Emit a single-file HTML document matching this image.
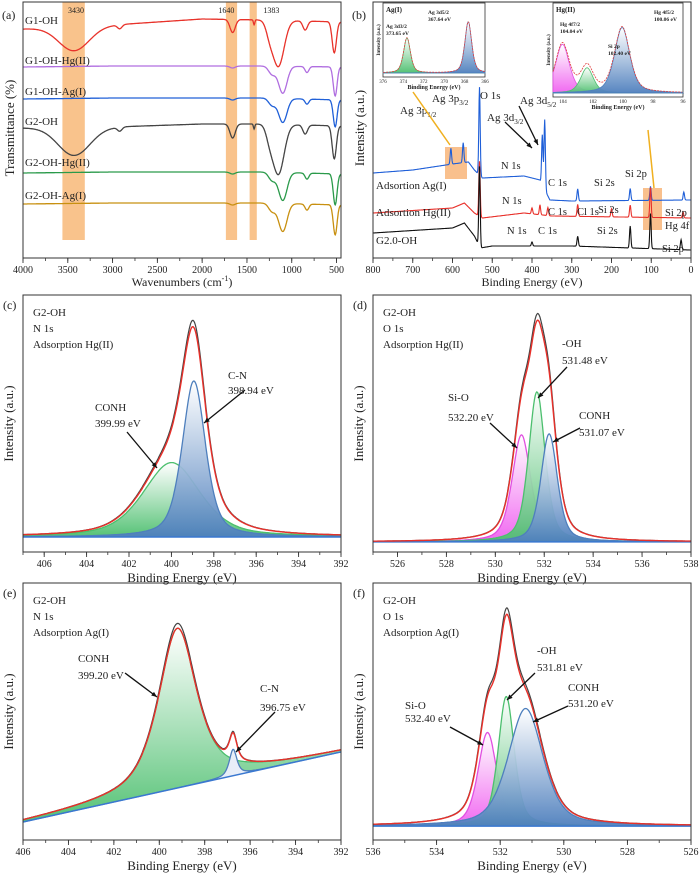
<!DOCTYPE html>
<html><head><meta charset="utf-8"><style>
html,body{margin:0;padding:0;background:#fff;}
svg{display:block;font-family:"Liberation Serif",serif;}
</style></head><body>
<svg id="fig" width="700" height="874" viewBox="0 0 700 874" xmlns="http://www.w3.org/2000/svg">
<defs id="defs"></defs>
</svg>
<script>
// ---------- FTIR (a) data ----------
const ftirNames=['G1-OH','G1-OH-Hg(II)','G1-OH-Ag(I)','G2-OH','G2-OH-Hg(II)','G2-OH-Ag(I)'];
const ftirBaseX=[4000,3000,2000,1300,450];
const ftirBaseVals=[[229,233,239,238,236],[191,192,192,192,191],[159,160,160,160,158],[130,131,134,134,132],[85,86,86,86,84],[54,55,55,55,53]];
const ftirDipCenters=[[3430,2920,1660,1420,1150,1250,850,525],[1660,1100,1220,830,515],[1660,1100,1220,830,515],[3430,2920,1660,1420,1150,1250,850,525],[1660,1100,1220,830,515],[1660,1100,1220,830,515]];
const ftirDipDepths=[[24,4,13,5,46,10,9,31],[2,27,8,6,29],[2,24,7,5,27],[28,4,14,5,50,10,9,33],[2,28,8,6,31],[2,28,8,6,30]];
const ftirDipWidths=[[400,60,70,18,150,90,60,55],[70,110,90,50,50],[70,110,90,50,50],[420,60,70,18,150,90,60,55],[70,110,90,50,50],[70,110,90,50,50]];
const ftirBands=[[3560,3310],[1735,1610],[1470,1390]];
const ftirTicks=[4000,3500,3000,2500,2000,1500,1000,500];

// ---------- Survey (b) data ----------
const surveyNames=['Adsortion Ag(I)','Adsortion Hg(II)','G2.0-OH'];
const surveyBaseX=[[800,700,600,560,545,525,420,380,355,300,0],[800,600,570,545,525,420,350,0],[800,600,570,545,530,500,300,0]];
const surveyBaseV=[[85,88,94,96,88,80,82,78,58,57,58],[45,50,55,45,40,45,42,40],[25,30,35,22,10,12,12,8]];
const surveyPeakC=[[604,573,532,374,368,285,153,102,18],[532,400,380,360,285,200,153,102,20],[532,400,285,153,102,25]];
const surveyPeakH=[[16,20,88,50,70,12,12,14,8],[55,6,10,8,12,8,12,30,6],[80,4,10,22,35,10]];

// ---------- high-resolution panels ----------
const cCenters=[399.99,398.94], cHeights=[31,65], cFwhm=[3.2,1.3];
const dCenters=[531.07,531.7,532.2], dHeights=[44.6,62.5,45], dFwhm=[0.9,0.8,0.8];
const eCenters=[399.2,396.75], eHeights=[66.5,11], eFwhm=[2.0,0.4];
const fCenters=[532.4,531.81,531.2], fHeights=[39,54,49], fFwhm=[0.7,0.6,1.3];
const agCenters=[373.65,367.64], agHeights=[55,80], agFwhm=[0.8,0.8];
const hgCenters=[104.04,102.4,100.06], hgHeights=[58,30,78], hgFwhm=[1.1,1.0,1.2];

const NS='http://www.w3.org/2000/svg';
const svg=document.getElementById('fig');
const defs=document.getElementById('defs');
function mk(tag,attrs,parent){const e=document.createElementNS(NS,tag);for(const k in attrs)e.setAttribute(k,attrs[k]);(parent||svg).appendChild(e);return e;}
function txt(x,y,s,size,anchor,parent){const t=mk('text',{x:x,y:y,'font-size':size,'text-anchor':anchor||'start',fill:'#222'},parent);t.textContent=s;return t;}
function subTxt(x,y,main,sub,size,parent){const t=mk('text',{x:x,y:y,'font-size':size,fill:'#222'},parent);t.appendChild(document.createTextNode(main));const ts=mk('tspan',{'font-size':size*0.65,dy:3},t);ts.textContent=sub;return t;}
function grad(id,color){const g=mk('linearGradient',{id:id,x1:0,y1:0,x2:0,y2:1},defs);mk('stop',{offset:'0','stop-color':'#fff','stop-opacity':0.9},g);mk('stop',{offset:'1','stop-color':color,'stop-opacity':0.95},g);}
grad('gGreen','#4cbf6e');grad('gBlue','#4e7fbd');grad('gMag','#f060f0');
function arrow(x1,y1,x2,y2,parent){mk('line',{x1:x1,y1:y1,x2:x2,y2:y2,stroke:'#111','stroke-width':1.3},parent);const a=Math.atan2(y2-y1,x2-x1),L=6;mk('polygon',{points:`${x2},${y2} ${x2-L*Math.cos(a-0.4)},${y2-L*Math.sin(a-0.4)} ${x2-L*Math.cos(a+0.4)},${y2-L*Math.sin(a+0.4)}`,fill:'#111'},parent);}
function pv(x,c,h,w){const r=(x-c)/w;return h*(0.5/(1+4*r*r)+0.5*Math.exp(-4*Math.LN2*r*r));}
function gauss(x,c,h,w){const r=(x-c)/w;return h*Math.exp(-4*Math.LN2*r*r);}
function interp(xs,vs,x){for(let i=0;i<xs.length-1;i++){const a=xs[i],b=xs[i+1];if((x-a)*(x-b)<=0){return vs[i]+(vs[i+1]-vs[i])*(x-a)/(b-a);}}return vs[vs.length-1];}
function axes(g,box,dom,majors,minorStep,fsz){
  const sx=v=>box.x0+(v-dom[0])/(dom[1]-dom[0])*(box.x1-box.x0);
  const r=mk('rect',{x:box.x0,y:box.y0,width:box.x1-box.x0,height:box.y1-box.y0,fill:'none',stroke:'#333','stroke-width':1},g);
  
  
  const lo=Math.min(dom[0],dom[1]),hi=Math.max(dom[0],dom[1]);
  for(let v=Math.ceil(lo/minorStep)*minorStep;v<=hi+1e-9;v+=minorStep){mk('line',{x1:sx(v),x2:sx(v),y1:box.y1,y2:box.y1+3,stroke:'#333','stroke-width':0.8},g);}
  majors.forEach(v=>{mk('line',{x1:sx(v),x2:sx(v),y1:box.y1,y2:box.y1+5,stroke:'#333','stroke-width':0.9},g);
    const t=txt(sx(v),box.y1+15,String(v),fsz||10,'middle',g);
    
    });
  return sx;
}
function panelG(name){const g=mk('g',{});return g;}

// ---------- Panel (a) ----------
(function(){
  const g=panelG('panel-a-ftir');
  const box={x0:23,x1:341,y0:2,y1:258};
  const dom=[4000,450];
  const sx=v=>box.x0+(v-dom[0])/(dom[1]-dom[0])*(box.x1-box.x0);
  const sy=v=>box.y1-v;
  ftirBands.forEach(b=>{const r=mk('rect',{x:sx(b[0]),y:2,width:sx(b[1])-sx(b[0]),height:238,fill:'#f8b878','fill-opacity':0.85},g);
    
    });
  const colors=['#e8322a','#b06ee0','#2060d8','#444','#2a9a4a','#c89010'];
  ftirNames.forEach((n,i)=>{
    let d='';for(let w=dom[0];w>=dom[1];w-=5){let v=interp(ftirBaseX,ftirBaseVals[i],w);
      ftirDipCenters[i].forEach((c,j)=>{v-=gauss(w,c,ftirDipDepths[i][j],ftirDipWidths[i][j]);});
      d+=(d?'L':'M')+sx(w).toFixed(1)+','+sy(v).toFixed(1);}
    const p=mk('path',{d:d,fill:'none',stroke:colors[i],'stroke-width':1.3},g);
    
    
  });
  const ly=[24,64,95,125,166,199];
  ftirNames.forEach((n,i)=>{const t=txt(25,ly[i],n,11,'start',g);});
  txt(sx(3430)+2,13,'3430',8,'middle',g);txt(sx(1640)-8,13,'1640',8,'middle',g);txt(sx(1383)+14,13,'1383',8,'middle',g);
  axes(g,box,dom,ftirTicks,250,10);
  const xt=mk('text',{x:182,y:286,'font-size':12,'text-anchor':'middle',fill:'#222'},g);xt.textContent='Wavenumbers (cm';const s=mk('tspan',{'font-size':8,dy:-5},xt);s.textContent='-1';const s2=mk('tspan',{dy:5},xt);s2.textContent=')';
  
  const yt=mk('text',{x:0,y:0,'font-size':13,'text-anchor':'middle',fill:'#222',transform:'translate(14,128) rotate(-90)'},g);yt.textContent='Transmittance (%)';
  
  txt(2,19,'(a)',12,'start',g);
})();

// ---------- Panel (b) ----------
(function(){
  const g=panelG('panel-b-survey');
  const box={x0:373,x1:691,y0:2,y1:258};
  const dom=[800,0];
  const sx=v=>box.x0+(v-dom[0])/(dom[1]-dom[0])*(box.x1-box.x0);
  const sy=v=>box.y1-v;
  [[445,147,22,32],[643,188,19,42]].forEach(r=>{const e=mk('rect',{x:r[0],y:r[1],width:r[2],height:r[3],fill:'#f8b070','fill-opacity':0.8},g);});
  const colors=['#1f5fd8','#e8302a','#111'];
  surveyNames.forEach((n,i)=>{
    let d='';for(let e=800;e>=0;e-=1){let v=interp(surveyBaseX[i],surveyBaseV[i],e);
      surveyPeakC[i].forEach((c,j)=>{v+=gauss(e,c,surveyPeakH[i][j],4);});
      d+=(d?'L':'M')+sx(e).toFixed(1)+','+sy(v).toFixed(1);}
    const p=mk('path',{d:d,fill:'none',stroke:colors[i],'stroke-width':1.1},g);
    
    
  });
  [[376,189],[376,216],[376,244]].forEach((p,i)=>{const t=txt(p[0],p[1],surveyNames[i],11,'start',g);});
  txt(480,99,'O 1s',11,'start',g);
  subTxt(520,104,'Ag 3d','5/2',11,g);subTxt(487,121,'Ag 3d','3/2',11,g);
  subTxt(432,102,'Ag 3p','3/2',11,g);subTxt(400,114,'Ag 3p','1/2',11,g);
  [[501,169,'N 1s'],[548,186,'C 1s'],[594,186,'Si 2s'],[625,177,'Si 2p'],[502,204,'N 1s'],[548,215,'C 1s'],[577,215,'Cl 1s'],[598,213,'Si 2s'],[665,216,'Si 2p'],[665,229,'Hg 4f'],[507,234,'N 1s'],[538,234,'C 1s'],[597,234,'Si 2s'],[662,252,'Si 2p']].forEach(a=>{const t=txt(a[0],a[1],a[2],10.5,'start',g);});
  [[519,106,538,145],[505,122,532,148]].forEach(a=>arrow(a[0],a[1],a[2],a[3],g));
  mk('line',{x1:413,y1:92,x2:450,y2:145,stroke:'#f0b020','stroke-width':1.5},g);
  mk('line',{x1:648,y1:130,x2:654,y2:188,stroke:'#f0b020','stroke-width':1.5},g);
  axes(g,box,dom,[800,700,600,500,400,300,200,100,0],50,10);
  const xt=txt(532,286,'Binding Energy (eV)',12,'middle',g);
  const yt=mk('text',{x:0,y:0,'font-size':13,'text-anchor':'middle',fill:'#222',transform:'translate(364,128) rotate(-90)'},g);yt.textContent='Intensity (a.u.)';
  
  txt(352,19,'(b)',12,'start',g);
  function inset(box,dom,centers,heights,fwhm,fills,strokes,title,ticks){
    const ig=mk('g',{},g);
    
    
    mk('rect',{x:box.x0,y:box.y0,width:box.x1-box.x0,height:box.y1-box.y0,fill:'#fff',stroke:'#333','stroke-width':0.8},ig);
    const ix=v=>box.x0+(v-dom[0])/(dom[1]-dom[0])*(box.x1-box.x0);
    const base=box.y1-4;const k=(box.y1-box.y0-10)/100;
    centers.forEach((c,j)=>{let d='M'+ix(dom[0])+','+base;for(let e=dom[0];(dom[1]-e)*(dom[1]-dom[0])>=0;e+=(dom[1]-dom[0])/150){d+='L'+ix(e).toFixed(1)+','+(base-pv(e,c,heights[j],fwhm[j])*k).toFixed(1);}d+='L'+ix(dom[1])+','+base+'Z';
      mk('path',{d:d,fill:fills[j],stroke:strokes[j],'stroke-width':0.8},ig);});
    let d='';for(let e=dom[0];(dom[1]-e)*(dom[1]-dom[0])>=0;e+=(dom[1]-dom[0])/150){let v=0;centers.forEach((c,j)=>{v+=pv(e,c,heights[j],fwhm[j]);});d+=(d?'L':'M')+ix(e).toFixed(1)+','+(base-v*k).toFixed(1);}
    mk('path',{d:d,fill:'none',stroke:'#e04040','stroke-width':0.8,'stroke-dasharray':'2,1'},ig);
    ticks.forEach(v=>{const t=mk('text',{x:ix(v),y:box.y1+6,'font-size':5,'text-anchor':'middle',fill:'#222'},ig);t.textContent=v;});
    const bt=mk('text',{x:(box.x0+box.x1)/2,y:box.y1+12,'font-size':6,'font-weight':'bold','text-anchor':'middle',fill:'#222'},ig);bt.textContent='Binding Energy (eV)';
    const it=mk('text',{x:0,y:0,'font-size':5,'font-weight':'bold','text-anchor':'middle',fill:'#222',transform:`translate(${box.x0-3},${(box.y0+box.y1)/2}) rotate(-90)`},ig);it.textContent='Intensity (a.u.)';
    const tt=mk('text',{x:box.x0+3,y:box.y0+9,'font-size':7,'font-weight':'bold',fill:'#222'},ig);tt.textContent=title;
    return ix;
  }
  inset({x0:383,x1:485,y0:3,y1:77},[376,366],agCenters,agHeights,agFwhm,['url(#gGreen)','url(#gBlue)'],['#4cbf6e','#4e7fbd'],'Ag(I)',[376,374,372,370,368,366]);
  const a1=mk('text',{x:386,y:28,'font-size':5.5,'font-weight':'bold',fill:'#222'},g);a1.textContent='Ag 3d3/2';
  const a2=mk('text',{x:386,y:35,'font-size':5.5,'font-weight':'bold',fill:'#222'},g);a2.textContent='373.65 eV';
  const a3=mk('text',{x:428,y:14,'font-size':5.5,'font-weight':'bold',fill:'#222'},g);a3.textContent='Ag 3d5/2';
  const a4=mk('text',{x:428,y:21,'font-size':5.5,'font-weight':'bold',fill:'#222'},g);a4.textContent='367.64 eV';
  inset({x0:553,x1:683,y0:3,y1:97},[104.67,96],hgCenters,hgHeights,hgFwhm,['url(#gMag)','url(#gGreen)','url(#gBlue)'],['#e050e0','#4cbf6e','#4e7fbd'],'Hg(II)',[104,102,100,98,96]);
  [[560,26,'Hg 4f7/2'],[560,33,'104.04 eV'],[608,48,'Si 2p'],[608,55,'102.40 eV'],[654,14,'Hg 4f5/2'],[654,21,'100.06 eV']].forEach(a=>{const t=mk('text',{x:a[0],y:a[1],'font-size':5.5,'font-weight':'bold',fill:'#222'},g);t.textContent=a[2];});
})();

// ---------- high-res fit panels ----------
function fitPanel(name,letter,box,dom,baseL,baseR,centers,heights,fwhm,eta,fills,strokes,k,texts,annots,arrows){
  const g=panelG(name);
  const sx=v=>box.x0+(v-dom[0])/(dom[1]-dom[0])*(box.x1-box.x0);
  const sy=v=>box.y1-v*k;
  const base=e=>baseL+(baseR-baseL)*(e-dom[0])/(dom[1]-dom[0]);
  const peak=(e,j)=>{const r=(e-centers[j])/fwhm[j];return heights[j]*(eta/(1+4*r*r)+(1-eta)*Math.exp(-4*Math.LN2*r*r));};
  const N=400,step=(dom[1]-dom[0])/N;
  centers.forEach((c,j)=>{
    let d='M'+sx(dom[0]).toFixed(1)+','+sy(base(dom[0])).toFixed(1),top='';
    for(let i=0;i<=N;i++){const e=dom[0]+i*step;const s=sx(e).toFixed(1)+','+sy(base(e)+peak(e,j)).toFixed(1);d+='L'+s;top+=(top?'L':'M')+s;}
    d+='L'+sx(dom[1]).toFixed(1)+','+sy(base(dom[1])).toFixed(1)+'Z';
    const f=mk('path',{d:d,fill:fills[j],stroke:'none'},g);
    
    
    const o=mk('path',{d:top,fill:'none',stroke:strokes[j],'stroke-width':1.3},g);
    
    
  });
  let raw='',env='';
  for(let i=0;i<=N;i++){const e=dom[0]+i*step;let v=base(e);centers.forEach((c,j)=>{v+=peak(e,j);});
    env+=(env?'L':'M')+sx(e).toFixed(1)+','+sy(v).toFixed(1);
    raw+=(raw?'L':'M')+sx(e).toFixed(1)+','+sy(base(e)+(v-base(e))*1.03).toFixed(1);}
  const rp=mk('path',{d:raw,fill:'none',stroke:'#444','stroke-width':1.2},g);
  
  
  const bl=mk('line',{x1:sx(dom[0]),y1:sy(baseL),x2:sx(dom[1]),y2:sy(baseR),stroke:'#3a78d0','stroke-width':1.5},g);
  
  
  const ep=mk('path',{d:env,fill:'none',stroke:'#e8302a','stroke-width':1.4},g);
  
  
  const lo=Math.min(dom[0],dom[1]),hi=Math.max(dom[0],dom[1]);const majors=[];for(let v=Math.ceil(lo/2)*2;v<=hi;v+=2)majors.push(v);
  axes(g,box,dom,majors,1,10);
  texts.forEach((t,i)=>{const e=txt(box.x0+10,box.y0+21+i*16,t,11,'start',g);});
  annots.forEach(a=>{const e=txt(a[0],a[1],a[2],11,'start',g);});
  arrows.forEach(a=>arrow(a[0],a[1],a[2],a[3],g));
  const xt=txt((box.x0+box.x1)/2,box.y1+30,'Binding Energy (eV)',13,'middle',g);
  
  const yt=mk('text',{x:0,y:0,'font-size':13,'text-anchor':'middle',fill:'#222',transform:`translate(${box.x0-10},${(box.y0+box.y1)/2}) rotate(-90)`},g);yt.textContent='Intensity (a.u.)';
  
  txt(box.x0-20,box.y0+14,letter,12,'start',g);
}
const GF='url(#gGreen)',BF='url(#gBlue)',MF='url(#gMag)',GS='#4cbf6e',BS='#4e7fbd',MS='#e050e0';
fitPanel('panel-c-n1s-hg','(c)',{x0:23,x1:341,y0:295,y1:552},[407,392],6.25,6.25,cCenters,cHeights,cFwhm,0.5,[GF,BF],[GS,BS],2.4,
  ['G2-OH','N 1s','Adsorption Hg(II)'],[[228,379,'C-N'],[228,394,'398.94 eV'],[95,411,'CONH'],[95,427,'399.99 eV']],[[245,390,204,423],[127,432,157,468]]);
fitPanel('panel-d-o1s-hg','(d)',{x0:373,x1:691,y0:295,y1:552},[525,538],4.2,4.2,dCenters,dHeights,dFwhm,0.5,[MF,GF,BF],[MS,GS,BS],2.4,
  ['G2-OH','O 1s','Adsorption Hg(II)'],[[562,347,'-OH'],[562,364,'531.48 eV'],[448,401,'Si-O'],[448,421,'532.20 eV'],[579,419,'CONH'],[579,436,'531.07 eV']],[[567,367,538,398],[490,423,517,448],[580,428,553,442]]);
fitPanel('panel-e-n1s-ag','(e)',{x0:23,x1:341,y0:583,y1:840},[406,392],7.5,36.7,eCenters,eHeights,eFwhm,0.7,[GF,'#e8eef8'],[GS,BS],2.4,
  ['G2-OH','N 1s','Adsorption Ag(I)'],[[78,662,'CONH'],[78,679,'399.20 eV'],[260,692,'C-N'],[260,711,'396.75 eV']],[[125,673,157,697],[275,712,236,752]]);
fitPanel('panel-f-o1s-ag','(f)',{x0:373,x1:691,y0:583,y1:840},[536,526],5.8,5.8,fCenters,fHeights,fFwhm,0.5,[MF,GF,BF],[MS,GS,BS],2.4,
  ['G2-OH','O 1s','Adsorption Ag(I)'],[[537,654,'-OH'],[537,671,'531.81 eV'],[568,691,'CONH'],[568,707,'531.20 eV'],[405,709,'Si-O'],[405,722,'532.40 eV']],[[535,673,507,700],[568,706,533,722],[450,727,483,745]]);
</script>
</body></html>
